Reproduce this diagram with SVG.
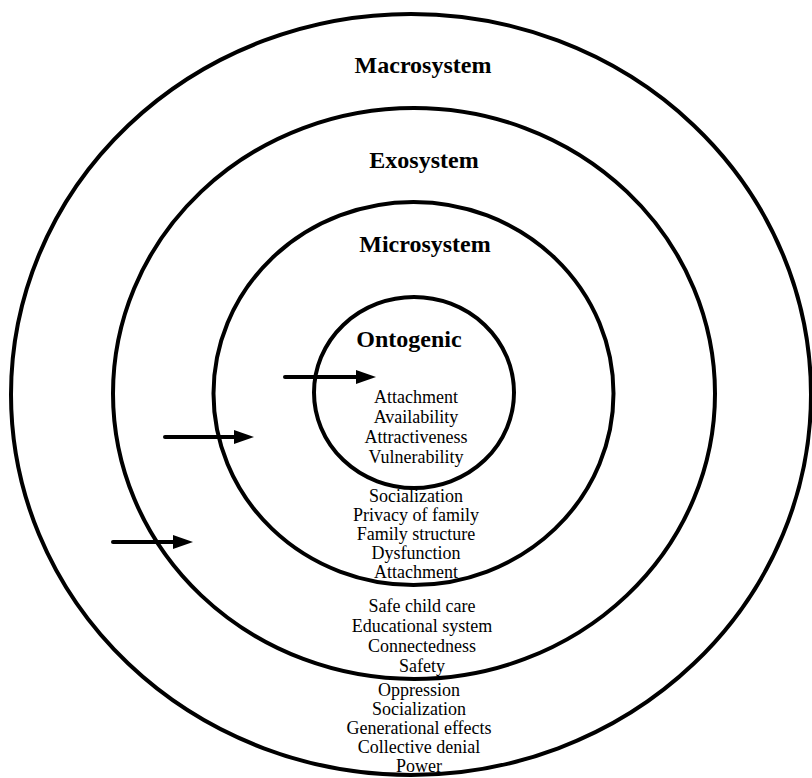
<svg xmlns="http://www.w3.org/2000/svg" width="812" height="778" viewBox="0 0 812 778">
<style>
.ring{fill:none;stroke:#000;stroke-width:4}
.h{font-family:"Liberation Serif","Times New Roman",serif;font-weight:bold;font-size:24px;text-anchor:middle;fill:#000}
.t{font-family:"Liberation Serif","Times New Roman",serif;font-size:18px;text-anchor:middle;fill:#000}
.arrow{stroke:#000;stroke-width:4;stroke-linecap:round;fill:none;marker-end:url(#head)}
</style>
<defs>
<marker id="head" markerUnits="userSpaceOnUse" viewBox="0 0 20 14" markerWidth="20" markerHeight="14" refX="2" refY="7" orient="auto">
<path d="M0,0 L20,7 L0,14 z" fill="#000"/>
</marker>
</defs>
<rect width="812" height="778" fill="#fff"/>
<g id="macrosystem">
<ellipse class="ring" cx="411" cy="394.5" rx="400" ry="380.5"/>
<text class="h" x="423" y="73">Macrosystem</text>
<text class="t" x="419" y="696">Oppression</text>
<text class="t" x="419" y="715">Socialization</text>
<text class="t" x="419" y="734">Generational effects</text>
<text class="t" x="419" y="753">Collective denial</text>
<text class="t" x="419" y="772">Power</text>
</g>
<g id="exosystem">
<ellipse class="ring" cx="414" cy="393.5" rx="301" ry="285.5"/>
<text class="h" x="424" y="168">Exosystem</text>
<text class="t" x="422" y="612">Safe child care</text>
<text class="t" x="422" y="632">Educational system</text>
<text class="t" x="422" y="652">Connectedness</text>
<text class="t" x="422" y="672">Safety</text>
</g>
<g id="microsystem">
<ellipse class="ring" cx="413.5" cy="393.5" rx="200" ry="191.5"/>
<text class="h" x="425" y="252">Microsystem</text>
<text class="t" x="416" y="502">Socialization</text>
<text class="t" x="416" y="521">Privacy of family</text>
<text class="t" x="416" y="540">Family structure</text>
<text class="t" x="416" y="559">Dysfunction</text>
<text class="t" x="416" y="578">Attachment</text>
</g>
<g id="ontogenic">
<ellipse class="ring" cx="414" cy="392.5" rx="100" ry="95.5"/>
<text class="h" x="409" y="347">Ontogenic</text>
<text class="t" x="416" y="403">Attachment</text>
<text class="t" x="416" y="423">Availability</text>
<text class="t" x="416" y="443">Attractiveness</text>
<text class="t" x="416" y="463">Vulnerability</text>
</g>
<g id="connectors">
<line class="arrow" x1="285" y1="377" x2="358" y2="377"/>
<line class="arrow" x1="165" y1="437" x2="236" y2="437"/>
<line class="arrow" x1="113" y1="542" x2="175" y2="542"/>
</g>
</svg>
